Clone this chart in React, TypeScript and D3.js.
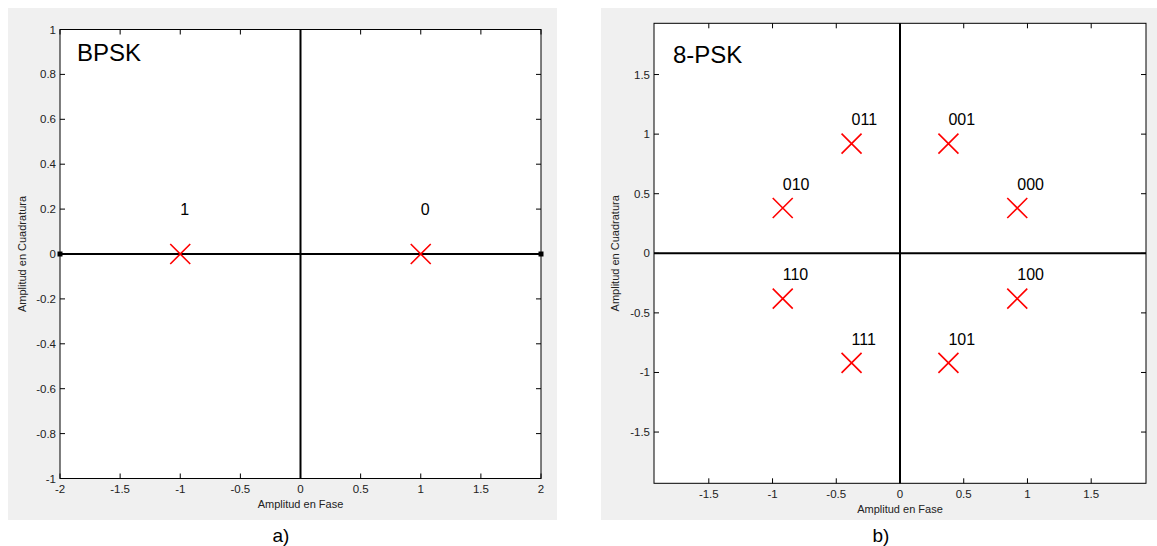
import React from "react";
import * as d3 from "d3";

// ---- Data ----
const bpskI = [1, -1];
const bpskQ = [0, 0];
const bpskLabels = ["0", "1"];
const bpskXTicks = [-2, -1.5, -1, -0.5, 0, 0.5, 1, 1.5, 2];
const bpskYTicks = [-1, -0.8, -0.6, -0.4, -0.2, 0, 0.2, 0.4, 0.6, 0.8, 1];

const pskI = [0.92, 0.38, -0.38, -0.92, -0.92, -0.38, 0.38, 0.92];
const pskQ = [0.38, 0.92, 0.92, 0.38, -0.38, -0.92, -0.92, -0.38];
const pskLabels = ["000", "001", "011", "010", "110", "111", "101", "100"];
const pskXTicks = [-1.5, -1, -0.5, 0, 0.5, 1, 1.5];
const pskYTicks = [-1.5, -1, -0.5, 0, 0.5, 1, 1.5];

const labelOffset = 0.2;
const FONT = "'Liberation Sans', Arial, sans-serif";

type PanelProps = {
  bg: [number, number, number, number];
  plot: [number, number, number, number];
  xDomain: [number, number];
  yDomain: [number, number];
  xTicks: number[];
  yTicks: number[];
  I: number[];
  Q: number[];
  labels: string[];
  title: string;
  titlePos: [number, number];
  caption: string;
  captionPos: [number, number];
  xLabelY: number;
  xTitleY: number;
  yTitleX: number;
  endMarkers: boolean;
};

function fmt(v: number) {
  const r = Math.round(v * 100) / 100;
  return String(r);
}

function Panel(p: PanelProps) {
  const [x0, y0, x1, y1] = p.plot;
  const x = d3.scaleLinear().domain(p.xDomain).range([x0, x1]);
  const y = d3.scaleLinear().domain(p.yDomain).range([y1, y0]);
  const tl = 5;
  const ms = 10;
  const tickColor = "#222";
  return (
    <g>
      <rect x={p.bg[0]} y={p.bg[1]} width={p.bg[2] - p.bg[0]} height={p.bg[3] - p.bg[1]} fill="#f0f0f0" />
      <rect x={x0} y={y0} width={x1 - x0} height={y1 - y0} fill="#fff" />
      {/* ticks */}
      {p.xTicks.map((t, i) => (
        <g key={"xt" + i}>
          <line x1={x(t)} x2={x(t)} y1={y1} y2={y1 - tl} stroke="#000" strokeWidth={1} />
          <line x1={x(t)} x2={x(t)} y1={y0} y2={y0 + tl} stroke="#000" strokeWidth={1} />
          <text x={x(t)} y={p.xLabelY} textAnchor="middle" fontSize={11.5} fontFamily={FONT} fill={tickColor}>
            {fmt(t)}
          </text>
        </g>
      ))}
      {p.yTicks.map((t, i) => (
        <g key={"yt" + i}>
          <line x1={x0} x2={x0 + tl} y1={y(t)} y2={y(t)} stroke="#000" strokeWidth={1} />
          <line x1={x1} x2={x1 - tl} y1={y(t)} y2={y(t)} stroke="#000" strokeWidth={1} />
          <text x={x0 - 4} y={y(t)} dy="0.35em" textAnchor="end" fontSize={11.5} fontFamily={FONT} fill={tickColor}>
            {fmt(t)}
          </text>
        </g>
      ))}
      {/* center axes */}
      <line x1={x(0)} x2={x(0)} y1={y0} y2={y1} stroke="#000" strokeWidth={2} />
      <line x1={x0} x2={x1} y1={y(0)} y2={y(0)} stroke="#000" strokeWidth={2} />
      {p.endMarkers && (
        <g>
          <rect x={x(p.xDomain[0]) - 2.5} y={y(0) - 2.5} width={5} height={5} fill="#000" />
          <rect x={x(p.xDomain[1]) - 2.5} y={y(0) - 2.5} width={5} height={5} fill="#000" />
        </g>
      )}
      {/* frame */}
      <rect x={x0} y={y0} width={x1 - x0} height={y1 - y0} fill="none" stroke="#000" strokeWidth={1} />
      {/* points */}
      {p.I.map((v, i) => (
        <g key={"pt" + i}>
          <path
            d={`M${x(v) - ms},${y(p.Q[i]) - ms}L${x(v) + ms},${y(p.Q[i]) + ms}M${x(v) - ms},${y(p.Q[i]) + ms}L${x(v) + ms},${y(p.Q[i]) - ms}`}
            stroke="#ff0000"
            strokeWidth={1.6}
            fill="none"
          />
          <text x={x(v)} y={y(p.Q[i] + labelOffset)} dy="0.35em" fontSize={16} fontFamily={FONT} fill="#000">
            {p.labels[i]}
          </text>
        </g>
      ))}
      <text x={p.titlePos[0]} y={p.titlePos[1]} fontSize={24} fontFamily={FONT} fill="#000">
        {p.title}
      </text>
      <text x={(x0 + x1) / 2} y={p.xTitleY} textAnchor="middle" fontSize={11} fontFamily={FONT} fill={tickColor}>
        Amplitud en Fase
      </text>
      <text
        transform={`translate(${p.yTitleX},${(y0 + y1) / 2}) rotate(-90)`}
        textAnchor="middle"
        dy="0.35em"
        fontSize={11}
        fontFamily={FONT}
        fill={tickColor}
      >
        Amplitud en Cuadratura
      </text>
      <text x={p.captionPos[0]} y={p.captionPos[1]} textAnchor="middle" fontSize={19} fontFamily={FONT} fill="#000">
        {p.caption}
      </text>
    </g>
  );
}

export default function App() {
  return (
    <svg
      width={1157}
      height={546}
      style={{ position: "absolute", left: 0, top: 0, background: "#fff" }}
    >
      <rect x={0} y={0} width={1157} height={546} fill="#fff" />
      <Panel
        bg={[8, 8, 557, 520]}
        plot={[60, 29.5, 541, 478.5]}
        xDomain={[-2, 2]}
        yDomain={[-1, 1]}
        xTicks={bpskXTicks}
        yTicks={bpskYTicks}
        I={bpskI}
        Q={bpskQ}
        labels={bpskLabels}
        title="BPSK"
        titlePos={[77, 61]}
        caption="a)"
        captionPos={[281, 542]}
        xLabelY={493}
        xTitleY={508}
        yTitleX={22}
        endMarkers={true}
      />
      <Panel
        bg={[601, 8, 1157, 520]}
        plot={[654, 23.3, 1146, 483.3]}
        xDomain={[-1.93, 1.93]}
        yDomain={[-1.93, 1.93]}
        xTicks={pskXTicks}
        yTicks={pskYTicks}
        I={pskI}
        Q={pskQ}
        labels={pskLabels}
        title="8-PSK"
        titlePos={[673, 63]}
        caption="b)"
        captionPos={[881, 542]}
        xLabelY={498}
        xTitleY={513}
        yTitleX={615}
        endMarkers={false}
      />
    </svg>
  );
}
